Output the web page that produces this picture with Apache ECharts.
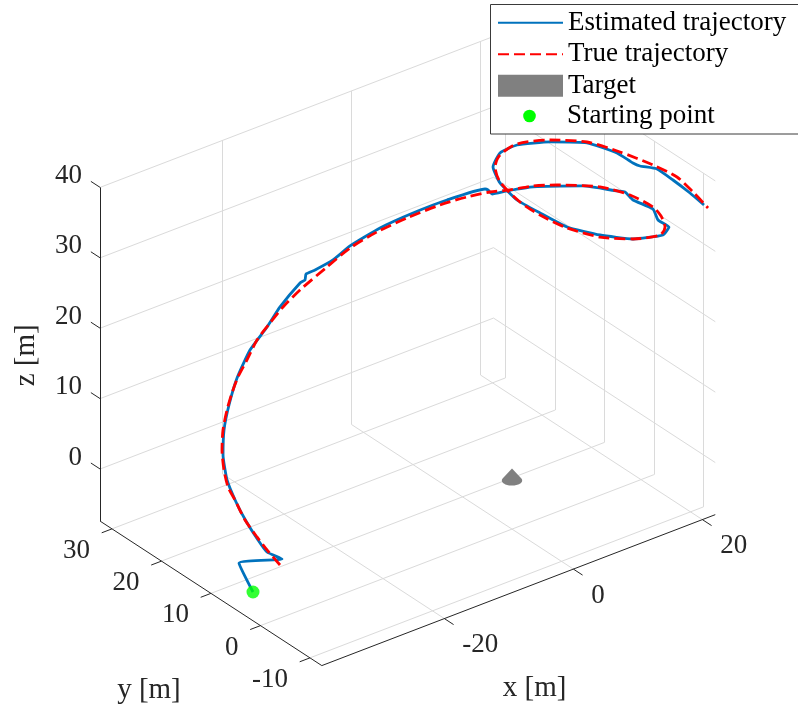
<!DOCTYPE html>
<html>
<head>
<meta charset="utf-8">
<script src="https://cdn.jsdelivr.net/npm/echarts@6/dist/echarts.min.js"></script>
<style>
  html, body { margin: 0; padding: 0; background: #ffffff; }
  #chart { width: 798px; height: 707px; }
</style>
</head>
<body>
<div id="chart"></div>
<script>
// ---- Axis limits and ticks (metres) ----
const xLimits = [-39, 22];
const yLimits = [-12.4, 32.4];
const zLimits = [-7.4, 40];
const xTicks = [-20, 0, 20];
const yTicks = [-10, 0, 10, 20, 30];
const zTicks = [0, 10, 20, 30, 40];

// ---- Estimated trajectory (metres) ----
const estX = [-36.32, -38.49, -35.66, -36.45, -36.31, -36.64, -36.65, -36.89, -36.36, -35.44,
  -33.90, -31.12, -27.96, -24.55, -21.77, -17.90, -17.05, -16.82, -15.19, -11.64,
  -8.23, -3.58, 1.53, 6.04, 10.63, 11.01, 11.48, 13.19, 14.77, 17.91,
  19.35, 19.82, 19.91, 21.09, 20.72, 21.65, 21.11, 17.22, 13.64, 10.83,
  8.95, 7.68, 7.35, 7.80, 8.88, 10.75, 14.33, 17.77, 19.73, 20.29,
  20.61, 21.33, 21.12, 21.46, 21.71];
const estY = [5, 5, 0, 2, 4, 6, 8, 9.5, 11, 12,
  13, 15, 16.5, 17.5, 18.5, 19.5, 19.6, 19.7, 20, 21,
  22, 22, 22, 21, 19.3, 19.2, 19, 18.2, 15, 9,
  4, 3, 1.5, -1, -2.5, -3.5, -3, -2, 0, 3,
  6, 9, 12, 14, 14, 13, 11, 8, 4.5, 2,
  1, -1.5, -5, -8, -10.5];
const estZ = [-5.86, -0.98, 0.89, 1.24, 1.98, 3.88, 5.67, 8.19, 10.87, 13.64,
  16.19, 18.13, 20.31, 21.92, 23.33, 24.92, 25.00, 25.72, 25.58, 25.30,
  25.63, 26.55, 26.88, 27.60, 28.33, 28.10, 27.46, 27.65, 29.13, 30.92,
  31.99, 32.14, 31.66, 31.11, 30.37, 29.50, 28.33, 28.67, 29.58, 30.33,
  31.61, 32.52, 33.68, 34.88, 36.49, 37.42, 37.51, 37.53, 37.03, 36.55,
  36.47, 36.94, 37.05, 36.46, 35.81];

// ---- True trajectory (metres) ----
const trueX = [-35.97, -36.45, -36.47, -36.79, -36.81, -37.12, -36.98, -36.52, -35.60, -34.21,
  -32.67, -30.97, -28.81, -26.49, -23.71, -20.92, -17.52, -12.57, -8.23, -4.05,
  0.60, 4.95, 8.37, 11.17, 13.50, 14.77, 16.19, 18.25, 19.83, 21.09,
  21.57, 21.42, 20.64, 17.22, 13.64, 10.83, 8.95, 8.15, 7.35, 8.11,
  8.88, 10.75, 14.33, 17.77, 19.81, 21.09, 21.74, 21.92, 21.95];
const trueY = [0, 2, 4, 6, 8, 9, 10, 11, 12, 13,
  14, 15, 16, 17, 18, 19, 20, 21, 22, 22,
  22, 21, 20, 19, 18, 15, 12, 6, 2, -1,
  -2, -3, -3, -2, 0, 3, 6, 9, 12, 14,
  14, 13, 11, 8, 4, -1, -5, -8, -11];
const trueZ = [0.14, 1.53, 2.47, 4.08, 6.01, 7.51, 9.41, 11.63, 13.69, 15.59,
  17.00, 18.22, 19.42, 20.98, 21.96, 22.80, 23.56, 24.63, 25.34, 26.15,
  26.50, 27.28, 27.67, 27.85, 27.78, 29.27, 30.29, 32.03, 32.17, 31.40,
  30.41, 29.36, 28.49, 28.67, 29.29, 30.19, 31.32, 32.07, 33.82, 34.77,
  36.20, 37.57, 37.79, 37.67, 37.37, 37.36, 37.26, 36.44, 35.53];

// ---- Target (cone at the origin) and starting point (metres) ----
const targetCentre = [0, 0];
const targetBaseZ = -0.5;
const targetApexZ = 1.2;
const targetRadius = 1.25;
const startPoint = [-36.32, 5, -5.86];

// ---- View and layout ----
const VIEW_AZ = -37.5;          // degrees
const VIEW_EL = 30;             // degrees
const PX_PER_M = 8.13;          // screen scale
const ORIGIN_PX = [512, 477];   // where (0,0,0) lands
const W = 798, H = 707;
const FONT = '"Liberation Serif", "Times New Roman", serif';
const INK = '#262626';
const GRID_INK = '#dadada';
const BLUE = '#0072BD', RED = '#FF0000', GREEN = '#00FF00', GREY = '#808080';
const LINE_W = 2.8;
const DASH = [11, 5];

// Orthographic view transform: 3-D point -> 2-D view plane (metres)
function proj(p) {
  const a = VIEW_AZ * Math.PI / 180, e = VIEW_EL * Math.PI / 180;
  const u = p[0] * Math.cos(a) + p[1] * Math.sin(a);
  const v = (-p[0] * Math.sin(a) + p[1] * Math.cos(a)) * Math.sin(e) + p[2] * Math.cos(e);
  return [u, v];
}
function seg(p, q) { return { coords: [proj(p), proj(q)] }; }

const [x0, x1] = xLimits, [y0, y1] = yLimits, [z0, z1] = zLimits;

// Grid lines on the floor and the two back walls
const gridSegs = [];
xTicks.forEach(t => {
  gridSegs.push(seg([t, y0, z0], [t, y1, z0]));
  gridSegs.push(seg([t, y1, z0], [t, y1, z1]));
});
yTicks.forEach(t => {
  gridSegs.push(seg([x0, t, z0], [x1, t, z0]));
  gridSegs.push(seg([x1, t, z0], [x1, t, z1]));
});
zTicks.forEach(t => {
  gridSegs.push(seg([x0, y1, t], [x1, y1, t]));
  gridSegs.push(seg([x1, y0, t], [x1, y1, t]));
});

// Axis lines with outward tick marks
const TICK_PX = 11;
function tickEnd(p, dir) {
  const a = proj(p), d = proj(dir);
  const n = Math.hypot(d[0], d[1]);
  const k = TICK_PX / PX_PER_M / n;
  return [a[0] + d[0] * k, a[1] + d[1] * k];
}
const axisSegs = [
  seg([x0, y0, z0], [x1, y0, z0]),
  seg([x0, y1, z0], [x0, y0, z0]),
  seg([x0, y1, z0], [x0, y1, z1])
];
xTicks.forEach(t => axisSegs.push({ coords: [proj([t, y0, z0]), tickEnd([t, y0, z0], [0, -1, 0])] }));
yTicks.forEach(t => axisSegs.push({ coords: [proj([x0, t, z0]), tickEnd([x0, t, z0], [-1, 0, 0])] }));
zTicks.forEach(t => axisSegs.push({ coords: [proj([x0, y1, t]), tickEnd([x0, y1, t], [0, 1, 0])] }));

// Tick labels and axis titles (anchored to projected axis positions)
const labels = [];
xTicks.forEach(t => labels.push({ p: proj([t, y0, z0]), text: String(t), dx: 18, dy: 26.5, align: 'left', size: 27 }));
yTicks.forEach(t => labels.push({ p: proj([x0, t, z0]), text: String(t), dx: -22, dy: 22, align: 'right', size: 27 }));
zTicks.forEach(t => labels.push({ p: proj([x0, y1, t]), text: String(t), dx: -18, dy: -11.5, align: 'right', size: 27 }));
labels.push({ p: proj([(x0 + x1) / 2, y0, z0]), text: 'x [m]', dx: 16, dy: 98, align: 'center', size: 29 });
labels.push({ p: proj([x0, (y0 + y1) / 2, z0]), text: 'y [m]', dx: -62, dy: 97, align: 'center', size: 29 });
labels.push({ p: proj([x0, y1, (z0 + z1) / 2]), text: 'z [m]', dx: -74, dy: 1, align: 'center', size: 29, rotate: Math.PI / 2 });

// Target cone outline: convex hull of the projected base circle and apex
function hull(pts) {
  const p = pts.slice().sort((a, b) => a[0] - b[0] || a[1] - b[1]);
  const cross = (o, a, b) => (a[0] - o[0]) * (b[1] - o[1]) - (a[1] - o[1]) * (b[0] - o[0]);
  const lo = [], up = [];
  p.forEach(q => { while (lo.length >= 2 && cross(lo[lo.length - 2], lo[lo.length - 1], q) <= 0) lo.pop(); lo.push(q); });
  p.slice().reverse().forEach(q => { while (up.length >= 2 && cross(up[up.length - 2], up[up.length - 1], q) <= 0) up.pop(); up.push(q); });
  return lo.slice(0, -1).concat(up.slice(0, -1));
}
const conePts = [proj([targetCentre[0], targetCentre[1], targetApexZ])];
for (let i = 0; i < 60; i++) {
  const t = i / 60 * 2 * Math.PI;
  conePts.push(proj([targetCentre[0] + targetRadius * Math.cos(t), targetCentre[1] + targetRadius * Math.sin(t), targetBaseZ]));
}
const coneOutline = hull(conePts);

const estData = estX.map((x, i) => proj([x, estY[i], estZ[i]]));
const trueData = trueX.map((x, i) => proj([x, trueY[i], trueZ[i]]));

// Legend box geometry (pixels)
const LEG = { left: 490.5, top: 4.5, width: 330, height: 129.5, iconX: 497, iconW: 65, textX: 567 };

const chart = echarts.init(document.getElementById('chart'), null, { renderer: 'canvas' });
chart.setOption({
  animation: false,
  backgroundColor: '#ffffff',
  grid: { left: 0, right: 0, top: 0, bottom: 0 },
  xAxis: { type: 'value', show: false, min: -ORIGIN_PX[0] / PX_PER_M, max: (W - ORIGIN_PX[0]) / PX_PER_M },
  yAxis: { type: 'value', show: false, min: -(H - ORIGIN_PX[1]) / PX_PER_M, max: ORIGIN_PX[1] / PX_PER_M },
  legend: {
    left: LEG.iconX, top: 9.2, orient: 'vertical', padding: 0, itemGap: 4.5,
    itemWidth: LEG.iconW, itemHeight: 22, selectedMode: false, z: 20,
    textStyle: { fontFamily: FONT, fontSize: 27, color: '#000000' },
    data: [
      { name: 'Estimated trajectory', itemStyle: { opacity: 0 } },
      { name: 'True trajectory', itemStyle: { opacity: 0 } },
      { name: 'Target', icon: 'rect' }
    ]
  },
  graphic: [
    {
      type: 'rect', z: 15, silent: true,
      shape: { x: LEG.left, y: LEG.top, width: LEG.width, height: LEG.height },
      style: { fill: '#ffffff', stroke: '#3a3a3a', lineWidth: 1 }
    },
    {
      type: 'circle', z: 20, silent: true,
      shape: { cx: LEG.iconX + LEG.iconW / 2, cy: 116, r: 6.3 },
      style: { fill: GREEN }
    },
    {
      type: 'text', z: 20, silent: true,
      x: LEG.textX, y: 116,
      style: { text: 'Starting point', font: '27px ' + FONT, fill: '#000000', verticalAlign: 'middle' }
    }
  ],
  series: [
    {
      type: 'lines', coordinateSystem: 'cartesian2d', silent: true, z: 1,
      lineStyle: { color: GRID_INK, width: 1, opacity: 1 },
      data: gridSegs
    },
    {
      type: 'lines', coordinateSystem: 'cartesian2d', silent: true, z: 1,
      lineStyle: { color: INK, width: 1, opacity: 1 },
      data: axisSegs
    },
    {
      type: 'custom', silent: true, z: 1,
      data: labels.map(l => l.p),
      renderItem: (params, api) => {
        const l = labels[params.dataIndex];
        const pt = api.coord([api.value(0), api.value(1)]);
        return {
          type: 'text', x: pt[0] + l.dx, y: pt[1] + l.dy, rotation: l.rotate || 0,
          style: { text: l.text, fill: INK, font: l.size + 'px ' + FONT, align: l.align, verticalAlign: 'middle' }
        };
      }
    },
    {
      name: 'Estimated trajectory', type: 'line', data: estData,
      symbol: 'none', smooth: 0.15, z: 3,
      lineStyle: { color: BLUE, width: LINE_W, join: 'round' },
      itemStyle: { color: BLUE }
    },
    {
      name: 'True trajectory', type: 'line', data: trueData,
      symbol: 'none', smooth: 0.25, z: 3,
      lineStyle: { color: RED, width: LINE_W, type: DASH },
      itemStyle: { color: RED }
    },
    {
      name: 'Target', type: 'custom', z: 3,
      itemStyle: { color: GREY },
      data: [[0, 0]],
      renderItem: (params, api) => ({
        type: 'polygon',
        shape: { points: coneOutline.map(q => api.coord(q)) },
        style: { fill: GREY }
      })
    },
    {
      name: 'Starting point', type: 'scatter', z: 4,
      symbol: 'circle', symbolSize: 13,
      itemStyle: { color: GREEN },
      data: [proj(startPoint)]
    }
  ]
});
</script>
</body>
</html>
